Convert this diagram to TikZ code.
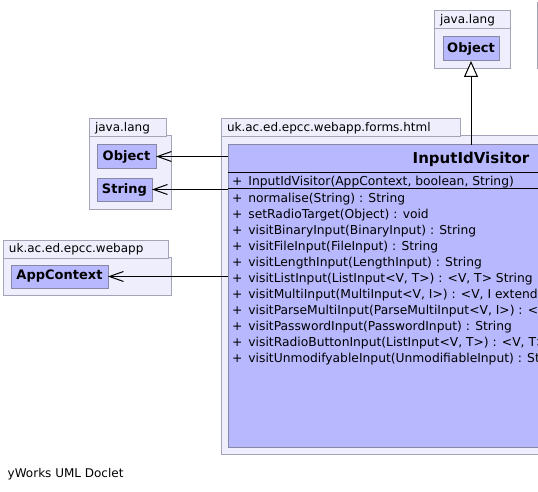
\documentclass[tikz,border=0pt]{standalone}
\usepackage{fontspec}
\setmainfont{DejaVu Sans}
\usetikzlibrary{arrows.meta}
\definecolor{pkgfill}{RGB}{238,238,252}
\definecolor{pkgline}{RGB}{164,164,184}
\definecolor{clsfill}{RGB}{184,184,255}
\definecolor{clsline}{RGB}{136,136,164}
\newcommand{\plus}{+\hspace{2pt} }
\begin{document}
\begin{tikzpicture}[x=1pt,y=-1pt,
  box/.style={line width=1pt, inner sep=0pt, outer sep=0pt, anchor=north west},
  pkg/.style={box, draw=pkgline, fill=pkgfill},
  pkgtab/.style={pkg, inner xsep=6pt, minimum height=18pt, align=left, font=\fontsize{12pt}{14pt}\selectfont},
  cls/.style={box, draw=clsline, fill=clsfill, font=\fontsize{13pt}{15pt}\selectfont\bfseries},
  member/.style={inner sep=0pt, anchor=base west, font=\fontsize{12.3pt}{14pt}\selectfont},
  foottext/.style={inner sep=0pt, anchor=base west, font=\fontsize{12pt}{14pt}\selectfont},
  dep/.style={draw, line width=1pt, -{Straight Barb[length=14pt,width=10pt]}},
  inh/.style={draw, line width=1pt, -{Triangle[open, length=16pt, width=14pt, fill=white]}}
]
\useasboundingbox (0,0) rectangle (538,492);
\clip (0,0) rectangle (538,492);
\fill[white] (0,0) rectangle (538,492);

% other package edge at right
\coordinate (e1) at (537.5,2);
\coordinate (e2) at (537.5,69);
\draw[pkgline, line width=1pt] (e1) -- (e2);

% top java.lang package
\node[pkg, minimum width=76pt, minimum height=40pt] (pb1) at (434,29) {};
\node[pkgtab, text width=64pt] (pt1) at (434,11) {java.lang};
\node[cls, minimum width=56pt, minimum height=24pt, anchor=center] (objT) at (471,49) {Object};

% left java.lang package
\node[pkg, minimum width=82pt, minimum height=73pt] (pb2) at (89,136) {};
\node[pkgtab, text width=65pt] (pt2) at (89,119) {java.lang};
\node[cls, minimum width=59pt, minimum height=23pt] (objL) at (97,145) {Object};
\node[cls, minimum width=55pt, minimum height=23pt] (strL) at (97,178) {String};

% webapp package
\node[pkg, minimum width=168pt, minimum height=38pt] (pb3) at (3,257) {};
\node[pkgtab, text width=153pt] (pt3) at (3,240) {uk.ac.ed.epcc.webapp};
\node[cls, minimum width=97pt, minimum height=23pt] (app) at (11,265) {AppContext};

% main package
\node[pkg, minimum width=500pt, minimum height=318pt] (pb4) at (221,136) {};
\node[pkgtab, text width=227pt] (pt4) at (221,119) {uk.ac.ed.epcc.webapp.forms.html};
\node[cls, minimum width=486pt, minimum height=302pt] (cls) at (228,145) {};
\node[font=\fontsize{15pt}{18pt}\selectfont\bfseries, inner sep=0pt, anchor=base] (title) at (471,164) {InputIdVisitor};
\draw[line width=1pt] ([yshift=-27pt]cls.north west) -- ([yshift=-27pt]cls.north east);
\draw[line width=1pt] ([yshift=-43pt]cls.north west) -- ([yshift=-43pt]cls.north east);
\node[member] (ctor) at (232,185) {\plus InputIdVisitor(AppContext, boolean, String)};
\foreach \t [count=\i from 0] in {
  {normalise(String) : String},
  {setRadioTarget(Object) : void},
  {visitBinaryInput(BinaryInput) : String},
  {visitFileInput(FileInput) : String},
  {visitLengthInput(LengthInput) : String},
  {visitListInput(ListInput<V, T>) : <V, T> String},
  {visitMultiInput(MultiInput<V, I>) : <V, I extends},
  {visitParseMultiInput(ParseMultiInput<V, I>) : <V},
  {visitPasswordInput(PasswordInput) : String},
  {visitRadioButtonInput(ListInput<V, T>) : <V, T>},
  {visitUnmodifyableInput(UnmodifiableInput) : Str}}
  \node[member] (m\i) at (232,202+16*\i) {\plus\t};

% connectors
\draw[inh] (objT.south |- cls.north) -- (objT.south);
\draw[dep] (objL.east -| cls.west) -- (objL.east);
\draw[dep] (strL.east -| cls.west) -- (strL.east);
\draw[dep] (app.east -| cls.west) -- (app.east);

% footer
\node[foottext] (foot) at (7.5,477) {yWorks UML Doclet};
\end{tikzpicture}
\end{document}
